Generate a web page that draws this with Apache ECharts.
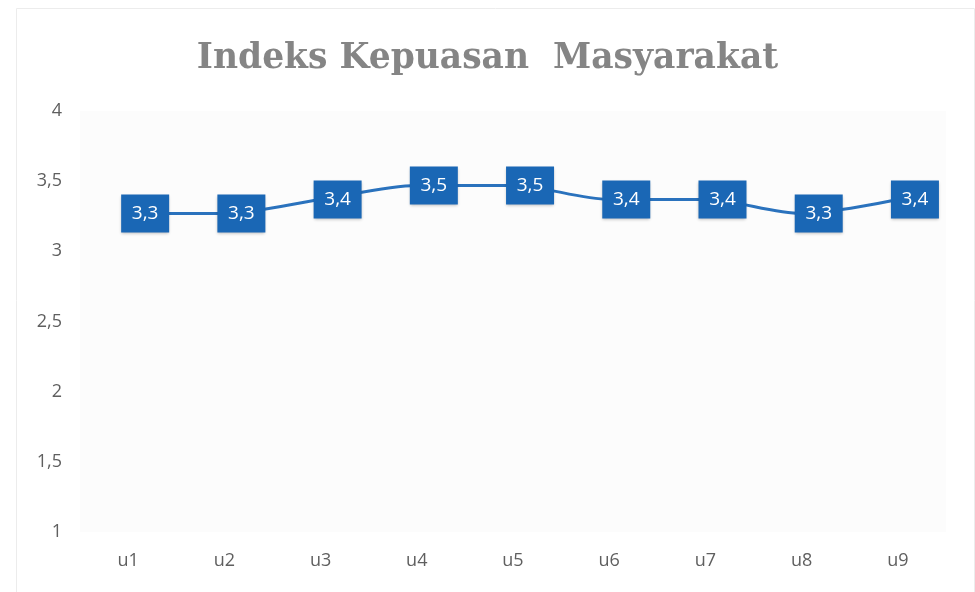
<!DOCTYPE html>
<html>
<head>
<meta charset="utf-8">
<script src="https://cdn.jsdelivr.net/npm/echarts@6/dist/echarts.min.js"></script>
<style>html,body{margin:0;padding:0;background:#fff}#c{width:975px;height:592px}</style>
</head>
<body>
<div id="c"></div>
<script>
var categories = ['u1','u2','u3','u4','u5','u6','u7','u8','u9'];
var values = [3.27, 3.27, 3.37, 3.47, 3.47, 3.37, 3.37, 3.27, 3.37];
var yTicks = [1, 1.5, 2, 2.5, 3, 3.5, 4];
var titleText = 'Indeks Kepuasan  Masyarakat';

var chart = echarts.init(document.getElementById('c'));
function fmt(v){ return String(v).replace('.', ','); }
chart.setOption({
  backgroundColor: '#ffffff',
  animation: false,
  graphic: [{
    type: 'rect', left: 14, top: 6, shape: {width: 958, height: 584},
    style: {fill: 'none', stroke: '#ececec', lineWidth: 1}, silent: true
  }],
  title: {
    text: titleText, left: 'center', top: 37,
    textStyle: {fontFamily: 'DejaVu Serif', fontWeight: 'bold', fontSize: 34.5, color: '#858585'}
  },
  grid: {left: 80, right: 29, top: 111, bottom: 60, show: true, backgroundColor: '#fcfcfc', borderWidth: 0},
  xAxis: {
    type: 'category', data: categories, boundaryGap: true,
    axisLine: {show: false}, axisTick: {show: false}, splitLine: {show: false},
    axisLabel: {color: '#5f5f5f', fontFamily: 'Open Sans', fontSize: 18, margin: 20}
  },
  yAxis: {
    type: 'value', min: 1, max: 4, interval: 0.5,
    axisLine: {show: false}, axisTick: {show: false}, splitLine: {show: false},
    axisLabel: {color: '#5f5f5f', fontFamily: 'Open Sans', fontSize: 18, margin: 18,
      formatter: function(v){ return yTicks.indexOf(v) >= 0 ? fmt(v) : ''; }}
  },
  series: [{
    type: 'line', data: values, smooth: 0.3, showSymbol: true, symbol: 'circle', symbolSize: 0.1,
    itemStyle: {color: '#2a72bd'},
    lineStyle: {color: '#2a72bd', width: 3},
    label: {
      show: true, position: 'right', distance: 17,
      formatter: function(p){ return fmt(p.value.toFixed(1)); },
      color: '#ffffff', fontFamily: 'Open Sans', fontSize: 19,
      backgroundColor: '#1a67b5', width: 48, height: 38, lineHeight: 38, align: 'center',
      padding: 0, shadowColor: 'rgba(0,0,0,0.25)', shadowBlur: 3, shadowOffsetY: 2
    }
  }]
});
</script>
</body>
</html>
